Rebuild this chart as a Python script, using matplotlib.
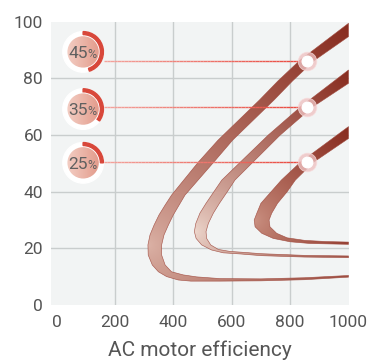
import numpy as np
import matplotlib
matplotlib.use('Agg')
import matplotlib.pyplot as plt
from matplotlib.patches import Polygon, Circle, Wedge
from matplotlib.colors import LinearSegmentedColormap
from matplotlib.collections import LineCollection

plt.rcParams['font.family'] = ['Roboto', 'DejaVu Sans']

# ---- data ----
pcts = [45, 35, 25]

# each band = outer edge (upper-left side, round the nose, underside of the tail)
# plus inner edge (lower-right side, round the nose, top of the tail)
c45_outer_x = [1000, 832, 758, 695, 553, 486, 394, 372, 351, 334, 320, 313, 314, 328, 349, 377, 417, 460, 560, 700, 850, 1000]
c45_outer_y = [99.5, 86.3, 79.1, 72.4, 58.2, 50.5, 38.8, 35.3, 31.8, 28.2, 24.7, 21.2, 17.6, 14.1, 11.7, 10.0, 8.8, 8.4, 8.4, 8.5, 8.9, 9.8]
c45_inner_x = [1000, 882, 808, 745, 603, 539, 440, 420, 400, 383, 368, 360, 360, 372, 394, 434, 480, 560, 700, 850, 1000]
c45_inner_y = [94.8, 86.3, 79.1, 72.4, 58.2, 50.5, 38.8, 35.3, 31.8, 28.2, 24.7, 21.2, 17.6, 14.1, 11.7, 10.6, 9.9, 9.3, 9.2, 9.6, 10.4]

c35_outer_x = [1000, 836, 725, 566, 539, 512, 491, 477, 472, 478, 497, 531, 571, 630, 700, 850, 1000]
c35_outer_y = [83.0, 70.0, 60.0, 44.1, 40.0, 35.9, 32.4, 28.8, 25.9, 23.5, 21.2, 19.4, 18.4, 18.0, 17.4, 16.9, 16.7]
c35_inner_x = [1000, 878, 766, 611, 585, 558, 537, 520, 512, 514, 528, 554, 594, 650, 700, 850, 1000]
c35_inner_y = [78.3, 70.0, 60.0, 44.1, 40.0, 35.9, 32.4, 28.8, 25.9, 23.5, 21.2, 19.6, 18.9, 18.5, 18.1, 17.5, 17.3]

c25_outer_x = [1000, 835, 770, 735, 700, 686, 677, 680, 703, 742, 800, 868, 1000]
c25_outer_y = [63.0, 50.4, 44.1, 40.0, 35.9, 32.4, 30.0, 27.6, 25.3, 23.5, 22.3, 21.7, 21.4]
c25_inner_x = [1000, 880, 818, 790, 757, 737, 728, 731, 754, 790, 850, 920, 1000]
c25_inner_y = [58.8, 50.4, 44.1, 40.0, 35.9, 32.4, 30.0, 27.6, 25.3, 23.7, 22.8, 22.4, 22.2]

marker_x = [857, 857, 857]
marker_y = [86.3, 70.0, 50.4]
badge_x = [91, 91, 91]
badge_y = [89.4, 69.2, 50.2]

x_ticks = [0, 200, 400, 600, 800, 1000]
y_ticks = [0, 20, 40, 60, 80, 100]
x_grid = [200, 400, 600, 800]
y_grid = [20, 40, 60, 80]

# ---- style ----
light_cols = ['#dcb3a7', '#eed8ce', '#cb9283']
dark_col = '#882c1f'
txt_col = '#555555'

W, H = 375, 363
fig = plt.figure(figsize=(W / 100, H / 100), dpi=100)
ax = fig.add_axes([50.7 / W, 1 - 304.9 / H, (348.5 - 50.7) / W, (304.9 - 21.9) / H])
ax.set_facecolor('#f2f4f4')
for s in ax.spines.values():
    s.set_visible(False)

xmin, xmax, ymin, ymax = -20, 1000, 0, 100
for gx in x_grid:
    ax.axvline(gx, color='#c9cdcd', lw=1, zorder=1)
for gy in y_grid:
    ax.axhline(gy, color='#c9cdcd', lw=1, zorder=1)

# pixels per data unit, used for round gradients
sx = (348.5 - 50.7) / (xmax - xmin)
sy = (304.9 - 21.9) / (ymax - ymin)

gxs = np.linspace(xmin, xmax, 700)
gys = np.linspace(ymin, ymax, 700)
GX, GY = np.meshgrid(gxs, gys)

curves = [
    (c45_outer_x, c45_outer_y, c45_inner_x, c45_inner_y),
    (c35_outer_x, c35_outer_y, c35_inner_x, c35_inner_y),
    (c25_outer_x, c25_outer_y, c25_inner_x, c25_inner_y),
]
for (ox, oy, ix, iy), lc in zip(curves, light_cols):
    px = np.array(ox + ix[::-1])
    py = np.array(oy + iy[::-1])
    k = int(np.argmin(ox))
    vx, vy = ox[k], oy[k]
    dmax = np.max(np.hypot((px - vx) * sx, (py - vy) * sy))
    d = np.hypot((GX - vx) * sx, (GY - vy) * sy)
    t = np.clip(d / dmax, 0, 1) ** 0.75
    cmap = LinearSegmentedColormap.from_list('band', [lc, dark_col])
    im = ax.imshow(t, cmap=cmap, vmin=0, vmax=1, extent=(xmin, xmax, ymin, ymax),
                   origin='lower', aspect='auto', interpolation='bilinear', zorder=3)
    patch = Polygon(np.column_stack([px, py]), closed=True, facecolor='none',
                    edgecolor='#9e463a', lw=0.45, alpha=0.85, joinstyle='round', zorder=4)
    ax.add_patch(patch)
    im.set_clip_path(patch)

ax.set_xlim(xmin, xmax)
ax.set_ylim(ymin, ymax)

# connector lines + markers
line_cmap = LinearSegmentedColormap.from_list('ln', ['#f3a39c', '#e9473d'])
fig.canvas.draw()
for bx, by, mx, my in zip(badge_x, badge_y, marker_x, marker_y):
    cx, _ = ax.transData.transform((bx, by))
    x0 = ax.transData.inverted().transform((cx + 20.5, 0))[0]
    xs = np.linspace(x0, mx, 60)
    segs = [[(xs[i], my), (xs[i + 1], my)] for i in range(len(xs) - 1)]
    lcoll = LineCollection(segs, colors=line_cmap(np.linspace(0, 1, len(segs))), lw=1.0, zorder=5)
    ax.add_collection(lcoll)
ax.scatter(marker_x, marker_y, s=180, color='#efc2c2', alpha=0.8,
           edgecolor='#f7dcdc', lw=0.6, zorder=6)
ax.scatter(marker_x, marker_y, s=58, color='white', zorder=7)

ax.set_xticks(x_ticks)
ax.set_yticks(y_ticks)
ax.tick_params(axis='x', length=0, pad=7, labelsize=12.5, labelcolor=txt_col)
ax.tick_params(axis='y', length=0, pad=5.5, labelsize=12.5, labelcolor=txt_col)
ax.set_xlabel('AC motor efficiency', fontsize=15, color=txt_col, labelpad=8)

# badges
fig.canvas.draw()
R = 22
for p, bx, by in zip(pcts, badge_x, badge_y):
    cx, cy = ax.transData.transform((bx, by))
    bax = fig.add_axes([(cx - R) / W, (cy - R) / H, 2 * R / W, 2 * R / H], zorder=10)
    bax.axis('off')
    bax.add_patch(Circle((0, 0), 20.3, color='white', zorder=1))
    bax.add_patch(Wedge((0, 0), 20.3, 90 - p * 3.6, 90, width=3.0, color='#d8473a', zorder=2))
    disc = Circle((0, 0), 15.7, facecolor='none', edgecolor='none', zorder=3)
    bax.add_patch(disc)
    grad = np.tile(np.linspace(0, 1, 64), (64, 1))
    dcm = LinearSegmentedColormap.from_list('disc', ['#f3cdc3', '#e39c8c'])
    dim = bax.imshow(grad, cmap=dcm, extent=(-16, 16, -16, 16), origin='lower',
                     aspect='auto', interpolation='bilinear', zorder=3)
    dim.set_clip_path(disc)
    bax.set_xlim(-R, R)
    bax.set_ylim(-R, R)
    bax.text(4.5, -6, str(p), ha='right', va='baseline', fontsize=12.5, color='#606060', zorder=4)
    bax.text(4.5, -6, '%', ha='left', va='baseline', fontsize=9, color='#606060', zorder=4)

fig.savefig('out.png', dpi=100)
